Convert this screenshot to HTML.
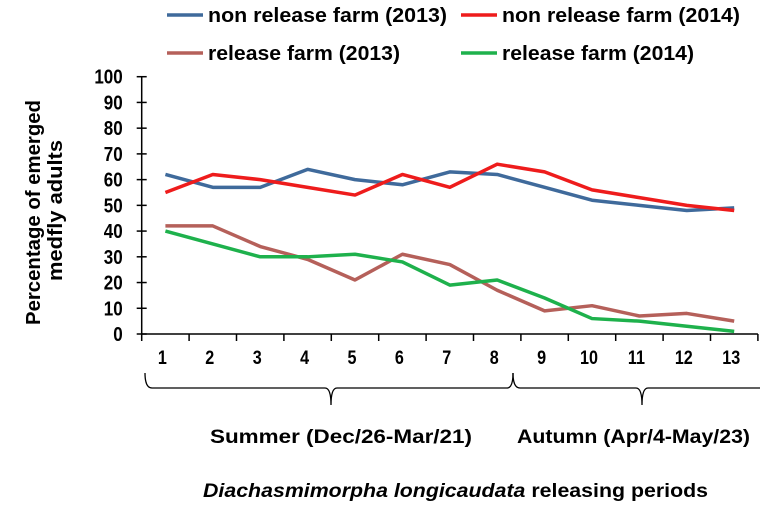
<!DOCTYPE html>
<html><head><meta charset="utf-8"><style>
body{margin:0;background:#fff}
svg text{font-family:"Liberation Sans",Arial,sans-serif;font-weight:bold;fill:#000}
</style></head><body>
<svg id="chart" width="768" height="513" viewBox="0 0 768 513" xmlns="http://www.w3.org/2000/svg">
<g id="legend"></g>
<g id="axes"></g>
<g id="series"></g>
<g fill="none" stroke="#000" stroke-width="1.3">
<path d="M145 373 Q145 388 152 388 L325 388 Q331 388 331 405 Q331 388 337 388 L507 388 Q513 388 513 373"/>
<path d="M513 373 Q513 388 520 388 L636 388 Q642 388 642 405 Q642 388 648 388 L760 388"/>
</g>
<text x="210" y="443" font-size="19" textLength="262" lengthAdjust="spacingAndGlyphs">Summer (Dec/26-Mar/21)</text>
<text x="517" y="443" font-size="19" textLength="233" lengthAdjust="spacingAndGlyphs">Autumn (Apr/4-May/23)</text>
<text x="203" y="497" font-size="19" textLength="505" lengthAdjust="spacingAndGlyphs"><tspan font-style="italic">Diachasmimorpha longicaudata</tspan> releasing periods</text>
<text transform="translate(40,325) rotate(-90)" font-size="20" textLength="225" lengthAdjust="spacingAndGlyphs">Percentage of emerged</text>
<text transform="translate(62,281) rotate(-90)" font-size="20" textLength="141" lengthAdjust="spacingAndGlyphs">medfly adults</text>
</svg>
<script>
const categories=["1","2","3","4","5","6","7","8","9","10","11","12","13"];
const yTicks=[0,10,20,30,40,50,60,70,80,90,100];
const nonRelease2013=[62,57,57,64,60,58,63,62,57,52,50,48,49];
const nonRelease2014=[55,62,60,57,54,62,57,66,63,56,53,50,48];
const release2013=[42,42,34,29,21,31,27,17,9,11,7,8,5];
const release2014=[40,35,30,30,31,28,19,21,14,6,5,3,1];
const NS="http://www.w3.org/2000/svg";
const x0=141.7,bw=47.4,yTop=76.7,yBot=334;
function xPos(i){return x0+(i+0.5)*bw;}
function yPos(v){return yBot-(v/100)*(yBot-yTop);}
function mk(tag,attrs,parent){const e=document.createElementNS(NS,tag);for(const k in attrs)e.setAttribute(k,attrs[k]);parent.appendChild(e);return e;}
const axes=document.getElementById('axes');
let a=mk('line',{x1:x0,y1:yTop,x2:x0,y2:yBot,stroke:'#000','stroke-width':1.5},axes);


a=mk('line',{x1:x0,y1:yBot,x2:x0+bw*categories.length,y2:yBot,stroke:'#000','stroke-width':1.5},axes);


yTicks.forEach(v=>{
 const t=mk('line',{x1:x0-5,x2:x0+5,y1:yPos(v),y2:yPos(v),stroke:'#000','stroke-width':1.5},axes);
 
 
 const l=mk('text',{x:x0-19,y:yPos(v)+7,'text-anchor':'end','font-size':20,transform:'translate('+(x0-19)+',0) scale(0.85,1) translate('+(-(x0-19))+',0)'},axes);
 
 
 l.textContent=v;
});
for(let i=0;i<=categories.length;i++){
 const t=mk('line',{x1:x0+i*bw,x2:x0+i*bw,y1:yBot,y2:yBot+7,stroke:'#000','stroke-width':1.5},axes);
 
 
}
categories.forEach((c,i)=>{
 const cx=xPos(i)-3;
 const l=mk('text',{x:cx,y:364,'text-anchor':'middle','font-size':19,transform:'translate('+cx+',0) scale(0.85,1) translate('+(-cx)+',0)'},axes);
 
 
 l.textContent=c;
});
const seriesG=document.getElementById('series');
const defs=[[nonRelease2013,'#3f6a9b','series-non-release-2013'],[nonRelease2014,'#ee1c1c','series-non-release-2014'],[release2013,'#b5605a','series-release-2013'],[release2014,'#1eb14c','series-release-2014']];
defs.forEach(([d,c,n])=>{
 const p=mk('polyline',{points:d.map((v,i)=>xPos(i)+','+yPos(v)).join(' '),fill:'none',stroke:c,'stroke-width':3.5,'stroke-linejoin':'round'},seriesG);
 
 
});
const lg=document.getElementById('legend');
const items=[['non release farm (2013)','#3f6a9b',167,15,239],['non release farm (2014)','#ee1c1c',461,15,238],['release farm (2013)','#b5605a',167,53,192],['release farm (2014)','#1eb14c',461,53,192]];
items.forEach(([t,c,x,y,w])=>{
 const ln=mk('line',{x1:x,x2:x+36,y1:y,y2:y,stroke:c,'stroke-width':3.5},lg);
 
 
 const tx=mk('text',{x:x+41,y:y+7,'font-size':20,textLength:w,lengthAdjust:'spacingAndGlyphs'},lg);
 
 
 tx.textContent=t;
});
</script>
</body></html>
